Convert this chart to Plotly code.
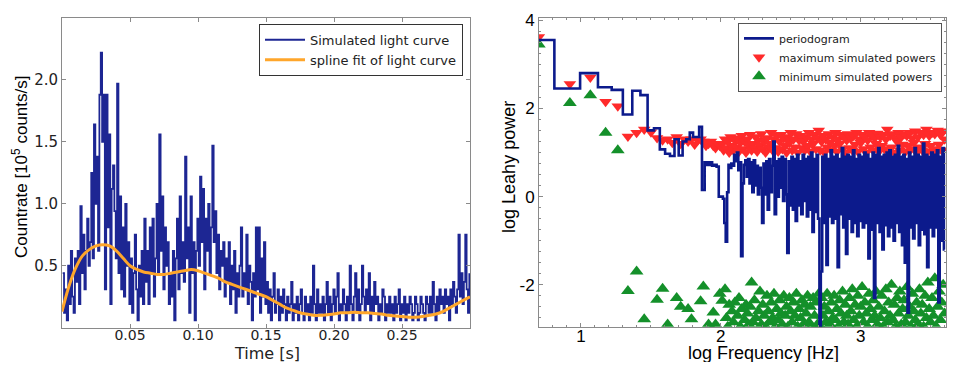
import numpy as np
import plotly.graph_objects as go

# ---- left panel: simulated light curve (10^5 counts/s), dt = 1 ms ----
dt = 0.001
countrate = [
    0.44, 0.12, 0.31, 0.06, 0.50, 0.19, 0.62, 0.25, 0.12, 0.56,
    0.37, 0.62, 0.19, 0.98, 0.44, 0.75, 0.31, 0.62, 0.88, 0.50,
    0.69, 1.25, 0.56, 1.64, 1.00, 1.38, 0.62, 1.88, 2.22, 1.50,
    1.88, 0.31, 1.88, 0.81, 1.56, 0.19, 1.12, 1.31, 0.94, 0.56,
    1.97, 0.44, 1.06, 0.31, 0.81, 0.25, 1.00, 0.50, 0.69, 0.19,
    0.56, 0.12, 0.44, 0.75, 0.31, 0.06, 0.50, 0.25, 0.62, 0.19,
    0.88, 0.37, 0.62, 0.19, 0.81, 0.44, 0.88, 0.25, 0.56, 1.00,
    0.44, 1.56, 0.62, 1.06, 0.31, 0.81, 0.50, 0.69, 0.19, 0.44,
    0.25, 0.62, 0.06, 0.56, 0.88, 0.31, 1.06, 0.44, 0.69, 0.37,
    1.38, 0.56, 0.81, 0.12, 1.06, 0.44, 0.69, 0.06, 0.62, 0.88,
    0.50, 1.22, 0.69, 1.12, 0.31, 0.88, 0.62, 1.00, 0.44, 0.81,
    1.47, 0.69, 0.94, 0.44, 0.75, 0.31, 0.62, 0.50, 0.69, 0.25,
    0.56, 0.37, 0.69, 0.19, 0.50, 0.31, 0.62, 0.12, 0.44, 0.25,
    0.50, 0.81, 0.25, 0.44, 0.31, 0.75, 0.19, 0.50, 0.37, 0.06,
    0.44, 0.25, 0.81, 0.31, 0.81, 0.12, 0.56, 0.25, 0.69, 0.19,
    0.37, 0.12, 0.31, 0.06, 0.25, 0.44, 0.12, 0.19, 0.31, 0.06,
    0.25, 0.12, 0.31, 0.19, 0.06, 0.25, 0.12, 0.19, 0.37, 0.06,
    0.19, 0.12, 0.25, 0.06, 0.19, 0.31, 0.12, 0.06, 0.25, 0.12,
    0.19, 0.06, 0.25, 0.12, 0.50, 0.19, 0.06, 0.31, 0.12, 0.19,
    0.12, 0.25, 0.06, 0.19, 0.37, 0.12, 0.25, 0.06, 0.19, 0.31,
    0.12, 0.25, 0.44, 0.06, 0.19, 0.12, 0.31, 0.19, 0.06, 0.25,
    0.12, 0.50, 0.19, 0.06, 0.25, 0.44, 0.12, 0.31, 0.06, 0.19,
    0.50, 0.25, 0.12, 0.31, 0.19, 0.44, 0.06, 0.25, 0.12, 0.37,
    0.19, 0.25, 0.06, 0.19, 0.12, 0.31, 0.25, 0.06, 0.19, 0.12,
    0.25, 0.12, 0.19, 0.06, 0.25, 0.12, 0.19, 0.31, 0.06, 0.19,
    0.12, 0.25, 0.06, 0.19, 0.12, 0.25, 0.19, 0.06, 0.12, 0.25,
    0.19, 0.06, 0.12, 0.25, 0.19, 0.12, 0.06, 0.25, 0.19, 0.12,
    0.25, 0.12, 0.37, 0.19, 0.06, 0.25, 0.12, 0.31, 0.19, 0.25,
    0.12, 0.31, 0.19, 0.25, 0.06, 0.31, 0.19, 0.37, 0.25, 0.12,
    0.31, 0.75, 0.25, 0.44, 0.19, 0.37, 0.75, 0.31, 0.12, 0.44,
]
spline_fit = [
    0.13, 0.33, 0.48, 0.58, 0.63, 0.66, 0.67, 0.66, 0.62, 0.56,
    0.50, 0.47, 0.45, 0.44, 0.43, 0.43, 0.44, 0.45, 0.46, 0.47,
    0.46, 0.44, 0.42, 0.40, 0.37, 0.35, 0.33, 0.31, 0.29, 0.27,
    0.25, 0.22, 0.19, 0.16, 0.14, 0.12, 0.11, 0.10, 0.10, 0.105,
    0.11, 0.12, 0.12, 0.125, 0.12, 0.12, 0.115, 0.11, 0.10, 0.095,
    0.09, 0.085, 0.085, 0.09, 0.10, 0.11, 0.13, 0.16, 0.19, 0.22,
    0.25,
]
time = (np.arange(len(countrate)) + 0.5) * dt
spline_time = np.arange(len(spline_fit)) * 0.005

# ---- right panel: periodogram (log Leahy power) ----
df = 10.0 / 3.0   # frequency resolution of the 0.3 s light curve
pgram_low = [3.55, 2.45, 2.80, 2.48, 2.42, 1.86, 2.40, 2.30, 1.50, 1.55,
             1.07, 0.97, 0.92, 1.30, 0.93, 1.25, 1.30, 1.45, 1.35, 1.35,
             1.58, 0.15, 0.78, 0.72, 0.78, 0.70, 0.72, 0.68, 0.00]
maxsim_low = [3.62, 2.55, 2.70, 2.15, 2.05, 1.36, 1.45, 1.52, 1.46, 1.33,
              1.28, 1.30, 1.22, 1.35, 1.20, 1.30, 1.25, 1.30, 1.18, 1.28,
              1.30, 1.25, 1.15, 1.20, 1.25, 1.15, 1.10, 1.20, 1.15]
minsim_low = [3.45, 2.12, 2.30, 1.45, 1.05, -2.14, -1.70, -2.78, -3.30, -2.34,
              -2.09, -2.90, -3.30, -2.30, -2.50, -3.30, -2.55, -2.78, -3.30, -3.30,
              -2.37, -2.04, -3.30, -2.90, -3.30, -2.63, -2.90, -3.30, -2.20]
pgram_high = [
    0.00, -0.05, -0.60, -1.02, 0.10, 0.72, 0.65, 0.75, 0.70, 0.95,
    0.80, 1.00, 0.60, 0.78, -1.35, 0.30, 0.72, 0.82, 0.45, 0.85,
    0.30, 0.78, 0.10, 0.82, 0.25, 0.70, 0.05, 0.65, 0.20, -0.60,
    0.75, 0.05, 0.80, -0.30, 0.85, 0.10, 0.70, 1.25, -0.40, 0.80,
    0.00, 0.85, 0.20, 0.90, -0.10, 0.85, 0.05, -1.28, 0.80, -0.20,
    0.90, -0.30, 0.85, -0.55, 0.95, -0.20, 0.80, -0.40, 0.95, -0.10,
    0.85, -0.45, 0.90, -0.30, 1.00, -0.80, 0.85, -0.35, 0.95, -0.50,
    -3.10, -1.70, 0.90, -0.60, 0.95, -1.55, 0.85, -0.45, 1.05, -0.60,
    0.90, -0.50, 0.95, -1.60, 0.85, -0.40, 1.10, -0.70, 0.90, -1.30,
    0.95, -0.50, 0.90, -0.80, 1.05, -0.60, 0.85, -0.90, 0.95, -0.55,
    0.90, -0.70, 1.00, -0.60, 0.95, -1.40, 0.85, -0.75, 1.00, -2.30,
    0.95, -0.60, 1.10, -0.80, 0.90, -1.20, 0.95, -0.65, 1.00, -0.90,
    1.05, -0.70, 0.90, -1.00, 0.95, -0.60, 1.15, -0.80, 0.90, -1.10,
    0.95, -1.50, 0.85, -2.63, 1.00, -0.70, 0.90, -0.95, 1.10, -0.60,
    0.95, -1.10, 0.90, -0.75, 1.20, -0.85, 0.95, -1.60, 0.90, -0.70,
    1.00, -0.90, 0.95, -0.70, 1.05, -2.40, 0.90, -1.00, 1.10, -1.20,
]
maxsim_high = [
    1.20, 1.05, 1.30, 1.10, 1.25, 1.00, 1.35, 1.15, 1.05, 1.28,
    1.12, 1.32, 1.02, 1.22, 1.38, 1.08, 1.25, 1.00, 1.30, 1.15,
    1.40, 1.05, 1.20, 1.10, 1.35, 1.02, 1.28, 1.15, 1.42, 1.08,
    1.25, 1.00, 1.33, 1.12, 1.20, 1.45, 1.05, 1.30, 1.10, 1.38,
    1.02, 1.25, 1.40, 1.08, 1.32, 1.15, 1.00, 1.35, 1.22, 1.45,
    1.05, 1.30, 1.12, 1.42, 1.00, 1.28, 1.38, 1.10, 1.25, 1.05,
    1.35, 1.15, 1.45, 1.02, 1.30, 1.20, 1.40, 1.08, 1.33, 1.50,
    1.05, 1.25, 1.38, 1.00, 1.30, 1.12, 1.42, 1.22, 1.05, 1.35,
    1.15, 1.45, 1.02, 1.30, 1.20, 1.40, 1.08, 1.35, 1.00, 1.28,
    1.42, 1.10, 1.32, 1.05, 1.38, 1.18, 1.45, 1.02, 1.30, 1.22,
    1.40, 1.08, 1.35, 1.00, 1.28, 1.45, 1.12, 1.38, 1.05, 1.32,
    1.20, 1.43, 1.02, 1.35, 1.15, 1.40, 1.08, 1.30, 1.52, 1.05,
    1.38, 1.12, 1.42, 1.00, 1.33, 1.25, 1.45, 1.05, 1.35, 1.18,
    1.42, 1.02, 1.38, 1.15, 1.45, 1.08, 1.32, 1.22, 1.48, 1.00,
    1.35, 1.12, 1.45, 1.05, 1.40, 1.20, 1.52, 1.02, 1.38, 1.15,
    1.45, 1.08, 1.42, 1.00, 1.50, 1.18, 1.40, 1.05, 1.48, 1.30,
]
minsim_high = [
    -2.36, -3.30, -2.10, -2.75, -2.95, -2.45, -3.30, -2.60, -2.85, -2.40,
    -3.30, -2.70, -2.30, -2.95, -2.55, -3.30, -2.80, -2.45, -2.65, -2.90,
    -2.50, -1.95, -2.85, -2.35, -2.75, -3.30, -2.60, -2.15, -2.90, -2.45,
    -2.70, -2.95, -2.25, -2.60, -2.85, -2.40, -2.75, -2.20, -2.95, -2.55,
    -2.80, -2.35, -2.65, -2.90, -2.25, -2.70, -2.50, -2.95, -2.30, -2.60,
    -2.85, -2.40, -2.70, -2.20, -2.95, -2.55, -2.75, -2.35, -2.90, -2.45,
    -2.65, -2.25, -2.85, -2.50, -2.95, -2.30, -2.70, -2.40, -2.90, -2.20,
    -2.95, -2.30, -2.70, -2.50, -2.85, -2.20, -2.60, -2.90, -2.40, -2.75,
    -2.25, -2.80, -2.55, -2.95, -2.35, -2.65, -2.15, -2.85, -2.45, -2.70,
    -2.90, -2.30, -2.60, -2.10, -2.80, -2.45, -2.95, -2.25, -2.70, -2.50,
    -2.05, -2.85, -2.40, -2.65, -2.95, -2.20, -2.55, -2.80, -2.35, -2.70,
    -2.15, -2.90, -2.50, -2.75, -2.25, -2.95, -2.60, -2.10, -2.85, -2.40,
    -2.70, -2.00, -2.80, -2.45, -2.95, -2.30, -2.65, -2.15, -2.90, -2.55,
    -2.35, -2.85, -2.05, -2.70, -2.50, -2.95, -2.20, -2.60, -2.80, -2.40,
    -2.90, -2.10, -2.65, -2.45, -2.95, -2.25, -2.75, -1.95, -2.55, -2.85,
    -2.30, -2.70, -1.85, -2.95, -2.50, -2.15, -2.80, -2.40, -2.00, -2.65,
]
logf_low = np.log10((np.arange(1, len(pgram_low) + 1) + 0.5) * df)
logf_high = 2.01 + np.arange(len(pgram_high)) * 0.01
logf = np.concatenate([logf_low, logf_high])
pgram = pgram_low + pgram_high
maxsim = maxsim_low + maxsim_high
minsim = minsim_low + minsim_high

# the page body has an 8px margin, so the figure is a bit smaller than the window
W, H, OFF = 943, 354, 8


def px(x):
    return (x - OFF) / W


def py(y):
    return 1 - (y - OFF) / H


fig = go.Figure()
fig.add_trace(go.Scatter(x=time, y=countrate, mode="lines", line_shape="hv",
                         line=dict(color="rgba(10,20,138,0.92)", width=1.8),
                         name="Simulated light curve", legend="legend"))
fig.add_trace(go.Scatter(x=spline_time, y=spline_fit, mode="lines", line_shape="spline",
                         line=dict(color="#ffa62b", width=3),
                         name="spline fit of light curve", legend="legend"))

fig.add_trace(go.Scatter(x=logf, y=maxsim, mode="markers", xaxis="x2", yaxis="y2",
                         marker=dict(symbol="triangle-down", size=11, color="#ff2a2a"),
                         name="maximum simulated powers", legend="legend2", legendrank=2))
fig.add_trace(go.Scatter(x=logf, y=minsim, mode="markers", xaxis="x2", yaxis="y2",
                         marker=dict(symbol="triangle-up", size=12, color="#14902a"),
                         name="minimum simulated powers", legend="legend2", legendrank=3))
fig.add_trace(go.Scatter(x=logf, y=pgram, mode="lines", line_shape="hvh", xaxis="x2", yaxis="y2",
                         line=dict(color="#0c1a8c", width=2.6),
                         name="periodogram", legend="legend2", legendrank=1))

axis_common = dict(showline=True, mirror="allticks", linecolor="#8a8a8a", linewidth=1,
                   ticks="inside", ticklen=4, tickcolor="#8a8a8a", showgrid=False,
                   zeroline=False)
tick_dv = dict(family="DejaVu Sans", size=14, color="#222")
tick_hv = dict(family="Liberation Sans", size=17, color="#000")

fig.update_layout(
    width=W, height=H, margin=dict(l=0, r=0, t=0, b=0),
    paper_bgcolor="white", plot_bgcolor="white",
    xaxis=dict(domain=[px(62), px(470)], range=[0, 0.3],
               tickvals=[0.05, 0.10, 0.15, 0.20, 0.25],
               ticktext=["0.05", "0.10", "0.15", "0.20", "0.25"],
               tickfont=tick_dv, ticklabelstandoff=-5, **axis_common),
    yaxis=dict(domain=[py(327), py(11)], range=[0, 2.5],
               tickvals=[0.5, 1.0, 1.5, 2.0], ticktext=["0.5", "1.0", "1.5", "2.0"],
               tickfont=dict(family="DejaVu Sans", size=15, color="#222"), **axis_common),
    xaxis2=dict(domain=[px(539), px(946)], range=[0.70, 3.61], anchor="y2",
                tickvals=[1, 2, 3], tickfont=tick_hv, ticklabelstandoff=-6,
                minor=dict(ticks="inside", ticklen=2, dtick=0.1, tickcolor="#8a8a8a"),
                **axis_common),
    yaxis2=dict(domain=[py(326), py(11)], range=[-2.95, 4.05], anchor="x2",
                tickvals=[-2, 0, 2, 4], ticktext=["-2", "0", "2", "4"], tickfont=tick_hv,
                ticklabeloverflow="allow",
                minor=dict(ticks="inside", ticklen=2, dtick=0.25, tickcolor="#8a8a8a"),
                **axis_common),
    legend=dict(x=px(463), y=py(17), xanchor="right", yanchor="top",
                bordercolor="#333", borderwidth=1, bgcolor="white",
                font=dict(family="DejaVu Sans", size=13, color="#222"),
                tracegroupgap=0, itemwidth=40),
    legend2=dict(x=px(942), y=py(16), xanchor="right", yanchor="top",
                 bordercolor="#555", borderwidth=1, bgcolor="white",
                 font=dict(family="DejaVu Sans", size=11, color="#222"),
                 tracegroupgap=0, itemwidth=30),
    showlegend=True,
    annotations=[
        dict(text="Countrate [10<sup>5</sup> counts/s]", x=px(20), y=py(163),
             xanchor="center", yanchor="middle",
             xref="paper", yref="paper", textangle=-90, showarrow=False,
             font=dict(family="Liberation Sans", size=17, color="#000")),
        dict(text="Time [s]", x=px(267), y=py(353), xanchor="center", yanchor="middle",
             xref="paper", yref="paper",
             showarrow=False, font=dict(family="DejaVu Sans", size=16, color="#222")),
        dict(text="log Leahy power", x=px(509), y=py(163), xanchor="center", yanchor="middle",
             xref="paper", yref="paper", textangle=-90, showarrow=False,
             font=dict(family="Liberation Sans", size=18, color="#000")),
        dict(text="log Frequency [Hz]", x=px(763), y=py(353), xanchor="center", yanchor="middle",
             xref="paper", yref="paper", showarrow=False,
             font=dict(family="Liberation Sans", size=18, color="#000")),
    ],
)

fig.write_html("out.html")
